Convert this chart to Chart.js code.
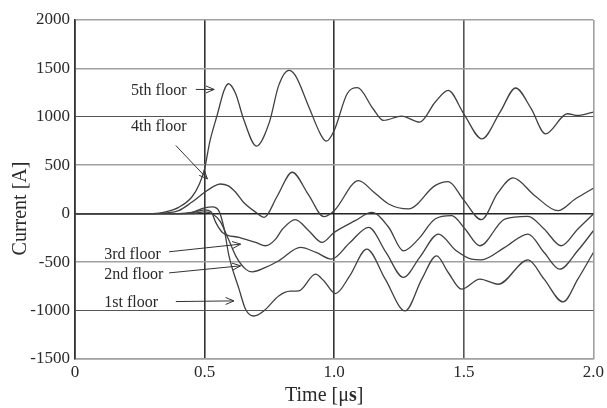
<!DOCTYPE html>
<html>
<head>
<meta charset="utf-8">
<script src="https://cdn.jsdelivr.net/npm/chart.js@4.4.0/dist/chart.umd.min.js"></script>
<style>
  html, body { margin: 0; padding: 0; background: #fff; }
</style>
</head>
<body>
<canvas id="c" width="607" height="408"></canvas>
<script>
// time [us] / current [A], one pair per floor
const t5 = [0, 0.30, 0.35, 0.40, 0.45, 0.48, 0.50, 0.52, 0.55, 0.575, 0.592, 0.62, 0.65, 0.70, 0.75, 0.786, 0.825, 0.85, 0.90, 0.95, 0.97, 1.00, 1.05, 1.09, 1.15, 1.19, 1.26, 1.33, 1.39, 1.44, 1.50, 1.57, 1.64, 1.70, 1.76, 1.815, 1.90, 1.94, 2.00];
const i5 = [0, 0, 20, 66, 170, 307, 463, 742, 1032, 1273, 1342, 1239, 980, 698, 946, 1325, 1480, 1428, 1118, 807, 749, 859, 1239, 1301, 1084, 963, 1008, 946, 1153, 1273, 1032, 773, 1049, 1298, 1084, 825, 1032, 1014, 1050];

const t4 = [0, 0.30, 0.35, 0.40, 0.45, 0.50, 0.53, 0.56, 0.59, 0.62, 0.65, 0.70, 0.73, 0.78, 0.838, 0.90, 0.96, 1.00, 1.094, 1.15, 1.21, 1.287, 1.389, 1.44, 1.50, 1.568, 1.63, 1.69, 1.774, 1.863, 1.93, 2.00];
const i4 = [0, 0, 8, 31, 118, 221, 275, 307, 290, 221, 118, 10, -37, 180, 428, 200, -30, 31, 342, 230, 100, 49, 290, 331, 140, -62, 210, 369, 186, 31, 152, 263];

const t3 = [0, 0.40, 0.45, 0.50, 0.525, 0.543, 0.569, 0.633, 0.697, 0.735, 0.774, 0.80, 0.85, 0.90, 0.953, 1.00, 1.081, 1.145, 1.21, 1.267, 1.325, 1.389, 1.453, 1.505, 1.562, 1.658, 1.748, 1.81, 1.876, 1.94, 2.00];
const i3 = [0, 0, 10, 40, 20, -89, -193, -245, -296, -331, -262, -160, -60, -170, -296, -193, -72, 14, -140, -383, -262, -55, -20, -158, -331, -55, -27, -158, -331, -158, -3];

const t2 = [0, 0.45, 0.50, 0.53, 0.56, 0.59, 0.62, 0.658, 0.684, 0.735, 0.786, 0.87, 0.93, 0.99, 1.06, 1.133, 1.20, 1.267, 1.33, 1.402, 1.47, 1.53, 1.568, 1.658, 1.748, 1.81, 1.87, 1.94, 2.00];
const i2 = [0, 0, 20, 0, -80, -250, -435, -572, -600, -555, -486, -348, -400, -469, -300, -141, -400, -658, -450, -210, -380, -469, -476, -348, -210, -400, -572, -380, -176];

const t1 = [0, 0.40, 0.45, 0.50, 0.53, 0.555, 0.575, 0.594, 0.633, 0.658, 0.69, 0.73, 0.786, 0.83, 0.863, 0.928, 0.96, 1.005, 1.06, 1.126, 1.197, 1.274, 1.338, 1.395, 1.44, 1.491, 1.562, 1.633, 1.748, 1.81, 1.883, 1.94, 2.00];
const i1 = [0, 0, 15, 60, 70, 30, -150, -435, -779, -986, -1056, -1000, -849, -800, -797, -624, -693, -825, -641, -365, -676, -1004, -676, -435, -607, -779, -676, -728, -476, -676, -911, -676, -400];

const floors = ['5th floor', '4th floor', '3rd floor', '2nd floor', '1st floor'];
const xTickLabels = ['0', '0.5', '1.0', '1.5', '2.0'];
const yTicks = [-1500, -1000, -500, 0, 500, 1000, 1500, 2000];

// label / arrow placement, in data units
const notes = [
  { at: [0.216, 1270], from: [0.466, 1283], to: [0.537, 1283] },
  { at: [0.216, 897],  from: [0.389, 704],  to: [0.511, 359] },
  { at: [0.113, -427], from: [0.363, -393], to: [0.639, -314] },
  { at: [0.113, -634], from: [0.363, -611], to: [0.639, -538] },
  { at: [0.113, -924], from: [0.389, -907], to: [0.613, -900] },
];

const SERIF = '"Liberation Serif", "Times New Roman", serif';
const pts = (ts, vs) => ts.map((t, k) => ({ x: t, y: vs[k] }));

const series = [[t5, i5], [t4, i4], [t3, i3], [t2, i2], [t1, i1]];

const notesPlugin = {
  id: 'notes',
  afterDatasetsDraw(chart) {
    const { ctx, chartArea: a, scales: { x, y } } = chart;
    ctx.save();
    ctx.fillStyle = '#2a2a2a';
    ctx.strokeStyle = '#333';
    ctx.lineWidth = 1;
    ctx.font = '16px ' + SERIF;
    ctx.textBaseline = 'middle';
    ctx.textAlign = 'left';
    notes.forEach((n, k) => {
      ctx.fillText(floors[k], x.getPixelForValue(n.at[0]), y.getPixelForValue(n.at[1]));
      const x0 = x.getPixelForValue(n.from[0]), y0 = y.getPixelForValue(n.from[1]);
      const x1 = x.getPixelForValue(n.to[0]), y1 = y.getPixelForValue(n.to[1]);
      const ang = Math.atan2(y1 - y0, x1 - x0), L = 9, w = 0.4;
      ctx.beginPath();
      ctx.moveTo(x0, y0);
      ctx.lineTo(x1, y1);
      ctx.moveTo(x1 - L * Math.cos(ang - w), y1 - L * Math.sin(ang - w));
      ctx.lineTo(x1, y1);
      ctx.lineTo(x1 - L * Math.cos(ang + w), y1 - L * Math.sin(ang + w));
      ctx.stroke();
    });

    // axis titles (the "s" of us is bold in the original)
    ctx.font = '20px ' + SERIF;
    const p1 = 'Time [\u03bc', p3 = ']';
    const w1 = ctx.measureText(p1).width, w3 = ctx.measureText(p3).width;
    ctx.font = 'bold 20px ' + SERIF;
    const w2 = ctx.measureText('s').width;
    let tx = (a.left + a.right) / 2 - 10 - (w1 + w2 + w3) / 2;
    const ty = a.bottom + 37;
    ctx.font = '20px ' + SERIF;
    ctx.fillText(p1, tx, ty);
    ctx.font = 'bold 20px ' + SERIF;
    ctx.fillText('s', tx + w1, ty);
    ctx.font = '20px ' + SERIF;
    ctx.fillText(p3, tx + w1 + w2, ty);

    ctx.translate(21, (a.top + a.bottom) / 2 + 19);
    ctx.rotate(-Math.PI / 2);
    ctx.textAlign = 'center';
    ctx.fillText('Current [A]', 0, 0);
    ctx.restore();
  }
};

const yGridColor = v => v === 0 ? '#222' : (Math.abs(v) === 1000 ? '#555' : '#a0a0a0');
const yGridWidth = v => v === 0 ? 1.6 : (Math.abs(v) === 1000 ? 1.1 : 1.6);
const xGridColor = v => v >= 2 ? '#a0a0a0' : (v >= 1.5 ? '#555' : '#333');

new Chart(document.getElementById('c'), {
  type: 'line',
  data: {
    datasets: series.map(([ts, vs], k) => ({
      label: floors[k],
      data: pts(ts, vs),
      borderColor: '#404040',
      borderWidth: 1.3,
      pointRadius: 0,
      fill: false,
      cubicInterpolationMode: 'monotone',
    }))
  },
  options: {
    responsive: false,
    animation: false,
    layout: { padding: { left: 0, right: 11, top: 20, bottom: 0 } },
    plugins: { legend: { display: false }, tooltip: { enabled: false } },
    scales: {
      x: {
        type: 'linear', min: 0, max: 2,
        afterFit: s => { s.height = 49; },
        afterBuildTicks: s => { s.ticks = xTickLabels.map((_, k) => ({ value: k * 0.5 })); },
        ticks: {
          color: '#2a2a2a', padding: 3, maxRotation: 0,
          font: { family: SERIF, size: 17 },
          callback: v => xTickLabels[Math.round(v / 0.5)],
        },
        grid: {
          drawTicks: false,
          color: c => xGridColor(c.tick.value),
          lineWidth: 1.6,
        },
        border: { color: '#a0a0a0', width: 1.6 },
      },
      y: {
        type: 'linear', min: -1500, max: 2000,
        afterFit: s => { s.width = 75; },
        afterBuildTicks: s => { s.ticks = yTicks.map(v => ({ value: v })); },
        ticks: {
          color: '#2a2a2a', padding: 5,
          font: { family: SERIF, size: 17 },
          callback: v => String(v),
        },
        grid: {
          drawTicks: false,
          color: c => yGridColor(c.tick.value),
          lineWidth: c => yGridWidth(c.tick.value),
        },
        border: { color: '#333', width: 1.6 },
      }
    }
  },
  plugins: [notesPlugin]
});
</script>
</body>
</html>
